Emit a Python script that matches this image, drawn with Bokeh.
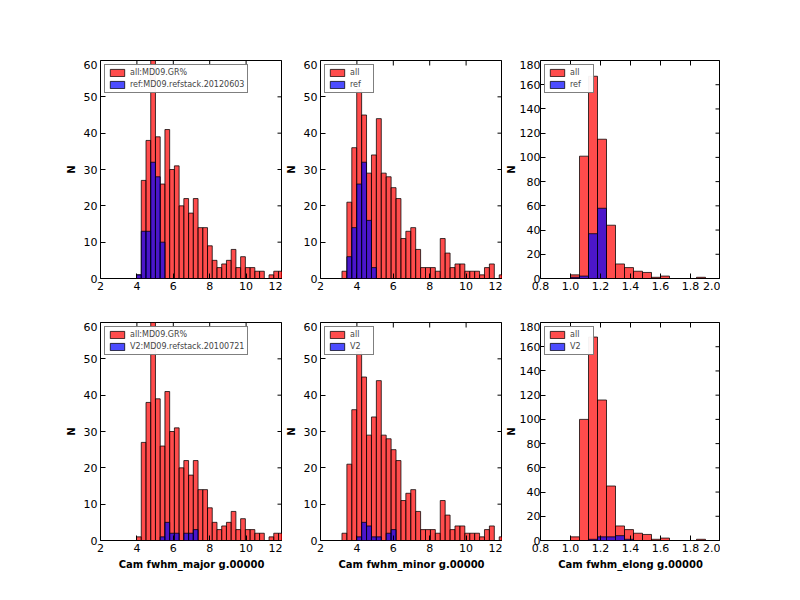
import numpy as np
from bokeh.plotting import figure
from bokeh.layouts import column, row
from bokeh.models import Spacer, Legend, LegendItem, Range1d, FixedTicker
from bokeh.embed import file_html
from bokeh.resources import INLINE

# major: bins start 2.94, width 0.26
major_start, major_w = 2.94, 0.26
major_all = [0, 0, 0, 0, 1, 27, 38, 60, 39, 26, 41, 30, 31, 20, 22, 18, 22, 14, 14, 9, 5, 3, 4, 5, 8, 3, 6, 3, 3, 2, 2, 0, 1, 2, 2]
major_ref = [0, 0, 0, 0, 1, 13, 13, 32, 28, 10] + [0] * 25
major_v2 = [0] * 9 + [1, 5, 2, 2, 0, 2, 2, 3] + [0] * 18
# minor: bins start 2.64, width 0.27
minor_start, minor_w = 2.64, 0.27
minor_all = [0, 0, 2, 21, 36, 52, 45, 29, 34, 44, 29, 28, 25, 22, 11, 13, 14, 8, 3, 3, 3, 2, 11, 7, 3, 4, 4, 2, 2, 2, 1, 3, 4, 0, 1]
minor_ref = [0, 0, 0, 6, 14, 26, 32, 16, 3] + [0] * 26
minor_v2 = [0, 0, 0, 0, 0, 1, 5, 4, 1, 1, 0, 2, 3] + [0] * 22
# elong: bins start 0.88, width 0.06
elong_start, elong_w = 0.88, 0.06
elong_all = [0, 0, 3, 101, 167, 115, 44, 12, 9, 6, 5, 1, 2, 0, 0, 0, 1, 0, 0, 0, 0]
elong_all2 = [0, 0, 3, 100, 168, 116, 45, 12, 9, 6, 5, 1, 2, 0, 0, 0, 1, 0, 0, 0, 0]
elong_ref = [0, 0, 1, 2, 37, 58] + [0] * 15
elong_v2 = [0, 0, 0, 0, 1, 3, 3, 4, 1] + [0] * 12

FONT = "DejaVu Sans"

def panel(start, w, red, blue, labels, xr, xticks, ymax, ystep, xlabel=None):
    tight = ymax > 100
    p = figure(frame_width=182 if not tight else 180, frame_height=218,
               output_backend="svg", toolbar_location=None,
               x_range=Range1d(*xr), y_range=Range1d(0, ymax),
               min_border_left=38, min_border_right=0, min_border_top=0,
               min_border_bottom=44 if xlabel is None else 52)
    edges = start + w * np.arange(len(red) + 1)
    r = p.quad(left=edges[:-1], right=edges[1:], bottom=0, top=red,
               fill_color="red", fill_alpha=0.7, line_color="black", line_alpha=0.75)
    b = p.quad(left=edges[:-1], right=edges[1:], bottom=0, top=blue,
               fill_color="blue", fill_alpha=0.7, line_color="black", line_alpha=0.75)
    p.xgrid.visible = False
    p.ygrid.visible = False
    p.outline_line_color = "black"
    p.outline_line_alpha = 1
    yt = list(range(0, ymax + 1, ystep))
    for ax, tk in ((p.xaxis[0], xticks), (p.yaxis[0], yt)):
        ax.ticker = FixedTicker(ticks=tk)
        ax.major_tick_in = 5
        ax.major_tick_out = 0
        ax.minor_tick_line_color = None
        ax.axis_line_color = None
        ax.major_label_text_font_size = "11px"
        ax.major_label_text_font = FONT
        ax.major_label_text_color = "black"
        ax.major_label_standoff = 3
    if tight:
        p.yaxis.major_label_standoff = 0
    p.xaxis[0].major_label_overrides = {t: (f"{t:.1f}" if isinstance(t, float) else str(t)) for t in xticks}
    p.yaxis.axis_label = "N"
    p.yaxis.axis_label_text_font_size = "10px"
    p.yaxis.axis_label_text_font_style = "bold"
    p.yaxis.axis_label_text_font = FONT
    p.yaxis.axis_label_text_color = "black"
    p.yaxis.axis_label_standoff = 0 if tight else 4
    if xlabel:
        p.xaxis.axis_label = xlabel
        p.xaxis.axis_label_text_font_size = "10px"
        p.xaxis.axis_label_text_font_style = "bold"
        p.xaxis.axis_label_text_font = FONT
        p.xaxis.axis_label_text_color = "black"
        p.xaxis.axis_label_standoff = 4
    # mirrored inward ticks on top and right
    p.ray(x=xticks, y=ymax, length=5, length_units="screen", angle=-90, angle_units="deg",
          line_color="black")
    p.ray(x=xr[1], y=yt, length=5, length_units="screen", angle=180, angle_units="deg",
          line_color="black")
    leg = Legend(items=[LegendItem(label=labels[0], renderers=[r]),
                        LegendItem(label=labels[1], renderers=[b])],
                 location="top_left", label_text_font_size="8px", label_text_font=FONT,
                 glyph_height=9, glyph_width=18, label_height=9, spacing=3,
                 padding=3, margin=4, border_line_color="black", border_line_width=1.2,
                 label_standoff=4)
    p.add_layout(leg, "center")
    return p

xt_big = [2, 4, 6, 8, 10, 12]
xt_el = [0.8, 1.0, 1.2, 1.4, 1.6, 1.8, 2.0]
p1 = panel(major_start, major_w, major_all, major_ref, ["all:MD09.GR%", "ref:MD09.refstack.20120603"], (2, 12), xt_big, 60, 10)
p2 = panel(minor_start, minor_w, minor_all, minor_ref, ["all", "ref"], (2, 12), xt_big, 60, 10)
p3 = panel(elong_start, elong_w, elong_all, elong_ref, ["all", "ref"], (0.8, 2.0), xt_el, 180, 20)
p4 = panel(major_start, major_w, major_all, major_v2, ["all:MD09.GR%", "V2:MD09.refstack.20100721"], (2, 12), xt_big, 60, 10, "Cam fwhm_major g.00000")
p5 = panel(minor_start, minor_w, minor_all, minor_v2, ["all", "V2"], (2, 12), xt_big, 60, 10, "Cam fwhm_minor g.00000")
p6 = panel(elong_start, elong_w, elong_all2, elong_v2, ["all", "V2"], (0.8, 2.0), xt_el, 180, 20, "Cam fwhm_elong g.00000")

layout = column(Spacer(height=60),
                row(Spacer(width=62), p1, p2, p3),
                row(Spacer(width=62), p4, p5, p6))
open("out.html", "w").write(file_html(layout, INLINE))
